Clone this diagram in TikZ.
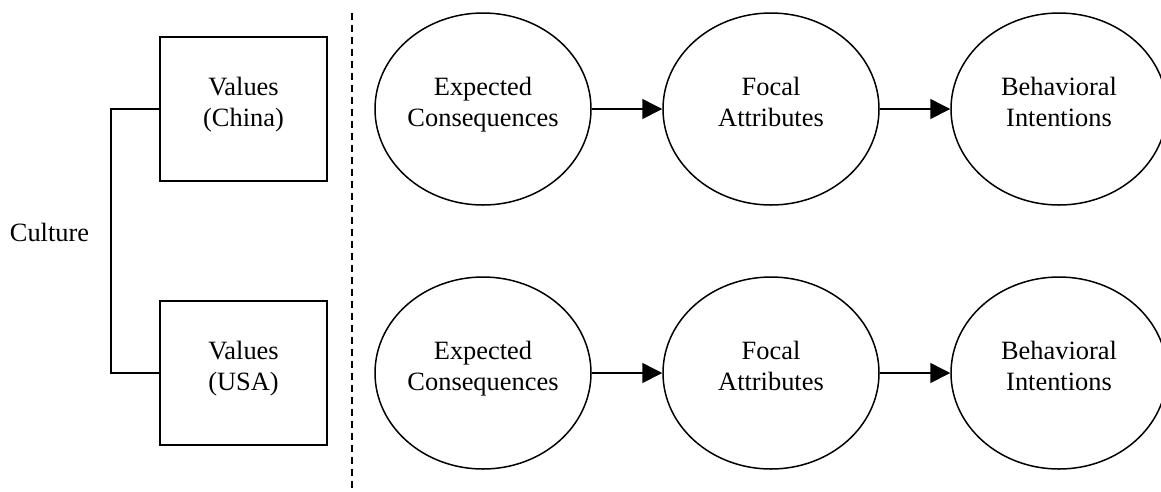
\documentclass[tikz,border=0pt]{standalone}
\usepackage{fontspec}
\setmainfont{Liberation Serif}
\usetikzlibrary{shapes.geometric,arrows.meta}
% fixed struts so every two-line label sits on the same baselines
\newcommand{\firststrut}{\rule{0pt}{20pt}}
\newcommand{\laststrut}{\rule[-16pt]{0pt}{16pt}}
\newcommand{\twolines}[2]{\firststrut #1\\#2\laststrut}
\begin{document}
\begin{tikzpicture}[x=1pt,y=-1pt,
  every node/.style={font=\fontsize{26.4}{31}\selectfont, align=center},
  valuebox/.style={draw, line width=1.6pt, minimum width=167pt, minimum height=144pt, inner sep=0pt},
  construct/.style={draw, ellipse, line width=1.5pt, minimum width=216pt, minimum height=192pt, inner sep=0pt},
  path arrow/.style={line width=1.5pt, -{Triangle[length=20pt,width=20pt]}},
  link/.style={line width=1.5pt},
  divider/.style={line width=1.5pt, dash pattern=on 7pt off 5pt}]
  \useasboundingbox (0,0) rectangle (1161,491);

  % cultural values
  \node[valuebox] (china) at (243.5,109) {\twolines{Values}{(China)}};
  \node[valuebox] (usa) at (243.5,373) {\twolines{Values}{(USA)}};
  \node[anchor=base, inner sep=0pt] (culture) at (49.5,241) {Culture};
  \draw[link] (china.west) -- ++(-48,0) |- (usa.west);

  % divider between culture and the process model
  \coordinate (divtop) at (352,13);
  \coordinate (divbot) at (352,491);
  \draw[divider] (divtop) -- (divbot);

  % upper chain
  \node[construct] (ec1) at (483,109) {\twolines{Expected}{Consequences}};
  \node[construct] (fa1) at (771,109) {\twolines{Focal}{Attributes}};
  \node[construct] (bi1) at (1059,109) {\twolines{Behavioral}{Intentions}};
  \draw[path arrow] (ec1.east) -- (fa1.west);
  \draw[path arrow] (fa1.east) -- (bi1.west);

  % lower chain
  \node[construct] (ec2) at (483,373) {\twolines{Expected}{Consequences}};
  \node[construct] (fa2) at (771,373) {\twolines{Focal}{Attributes}};
  \node[construct] (bi2) at (1059,373) {\twolines{Behavioral}{Intentions}};
  \draw[path arrow] (ec2.east) -- (fa2.west);
  \draw[path arrow] (fa2.east) -- (bi2.west);
\end{tikzpicture}
\end{document}
